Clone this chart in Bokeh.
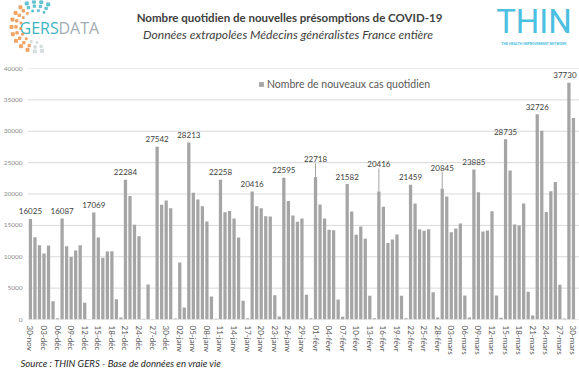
import numpy as np
from bokeh.plotting import figure
from bokeh.layouts import column
from bokeh.models import Range1d, FixedTicker, Legend, LegendItem, ColumnDataSource
from bokeh.core.properties import value
from bokeh.embed import file_html
from bokeh.resources import INLINE

# ---------------- data ----------------
nouveaux_cas = [
    16025, 13120, 11840, 10520, 11790, 2920, 200,
    16087, 11680, 9980, 10990, 11840, 2650, 50,
    17069, 13060, 9830, 10830, 10890, 3240, 320,
    22284, 19700, 15080, 13280, 100, 5580, 80,
    27542, 18270, 18960, 17740, 150, 9080, 1910,
    28213, 20180, 19120, 18060, 15610, 3660, 100,
    22258, 17100, 17310, 16090, 13060, 2970, 200,
    20416, 18060, 17740, 16460, 16410, 3880, 480,
    22595, 18900, 16570, 15560, 16090, 3930, 200,
    22718, 18320, 16090, 14290, 14230, 3190, 420,
    21582, 17210, 13490, 14820, 12850, 3770, 200,
    20416, 17950, 12210, 12750, 13540, 3770, 200,
    21459, 18480, 14390, 14130, 14390, 4350, 320,
    20845, 19600, 13910, 14500, 15290, 3820, 320,
    23885, 20290, 14020, 14180, 17260, 3820, 270,
    28735, 23750, 15130, 14980, 18480, 4410, 640,
    32726, 30090, 17150, 20450, 21930, 5520, 150,
    37730, 32110,
]

tick_labels = [
    "30-nov", "03-déc", "06-déc", "09-déc", "12-déc", "15-déc", "18-déc",
    "21-déc", "24-déc", "27-déc", "30-déc", "02-janv", "05-janv", "08-janv",
    "11-janv", "14-janv", "17-janv", "20-janv", "23-janv", "26-janv", "29-janv",
    "01-févr", "04-févr", "07-févr", "10-févr", "13-févr", "16-févr", "19-févr",
    "22-févr", "25-févr", "28-févr", "03-mars", "06-mars", "09-mars", "12-mars",
    "15-mars", "18-mars", "21-mars", "24-mars", "27-mars", "30-mars",
]

y_ticks = [0, 5000, 10000, 15000, 20000, 25000, 30000, 35000, 40000]

series_name = "Nombre de nouveaux cas quotidien"
title_text = "Nombre quotidien de nouvelles présomptions de COVID-19"
subtitle_text = "Données extrapolées Médecins généralistes France entière"
source_text = "Source : THIN GERS - Base de données en vraie vie"

# ---------------- styles ----------------
BAR = "#a5a5a5"
GRID = "#d9d9d9"
TXT = "#404040"
FONT = value("Lato")
W = 579


def blank_fig(h, y_top):
    f = figure(width=W, height=h, output_backend="svg", toolbar_location=None,
               x_range=Range1d(0, W), y_range=Range1d(y_top + h, y_top),
               min_border=0, min_border_left=0, min_border_right=0,
               min_border_top=0, min_border_bottom=0,
               x_axis_location=None, y_axis_location=None)
    f.outline_line_color = None
    f.grid.visible = False
    f.frame_align = False
    return f


# ---------------- header ----------------
head = blank_fig(60, 0)
head.text(x=[289], y=[16.5], text=[title_text], text_font=FONT, text_font_size="11.5px",
          text_font_style="bold", text_color=TXT, text_align="center", text_baseline="middle")
head.text(x=[287.5], y=[34], text=[subtitle_text], text_font=FONT, text_font_size="12.1px",
          text_font_style="italic", text_color=TXT, text_align="center", text_baseline="middle")
# GERSDATA logo
head.text(x=[19], y=[27.5], text=["GERS"], text_font=value("Open Sans"), text_font_size="16px",
          text_color="#3fb3c2", text_align="left", text_baseline="middle")
head.text(x=[58], y=[27.5], text=["DATA"], text_font=value("Open Sans"), text_font_size="16px",
          text_color="#a3adb2", text_align="left", text_baseline="middle")
cx, cy = 36, 26
dx, dy, dc, ds = [], [], [], []
for r, sz in ((25, 3.0), (20.5, 2.4), (16, 1.8)):
    for a in np.arange(62, 290, 17 if r > 20 else 21):
        t = np.radians(a)
        dx.append(cx + r * np.cos(t)); dy.append(cy - r * np.sin(t))
        if a < 118:
            dc.append("#4fbccb")
        elif a < 250:
            dc.append("#f29a52")
        else:
            dc.append("#d0d8db")
        ds.append(sz)
head.scatter(x=dx, y=dy, size=ds, marker="square", color=dc, alpha=0.85)
# THIN logo
head.text(x=[533.5], y=[21], text=["THIN"], text_font=value("Roboto"),
          text_font_size="33px", text_color="#4cc0e0", text_align="center", text_baseline="middle")
head.text(x=[533.5], y=[43], text=["THE HEALTH IMPROVEMENT NETWORK"], text_font=value("Roboto"),
          text_font_size="3.6px", text_font_style="bold", text_color="#4cc0e0",
          text_align="center", text_baseline="middle")

# ---------------- main chart ----------------
n = len(nouveaux_cas)
days = list(range(n))
slot = 549.5 / n
x0 = -0.5 - (25.7 - 16) / slot
x1 = n - 0.5 + (W - 575.2) / slot

p = figure(width=W, height=297, output_backend="svg", toolbar_location=None,
           x_range=Range1d(x0, x1), y_range=Range1d(0, 40000),
           min_border_left=16, min_border_right=0, min_border_top=8, min_border_bottom=38)
p.frame_align = False
p.outline_line_color = None
p.xgrid.grid_line_color = None
p.ygrid.grid_line_color = None

# gridlines starting where the category axis starts
p.segment(x0=[-0.5] * len(y_ticks), y0=y_ticks, x1=[x1] * len(y_ticks), y1=y_ticks,
          line_color=GRID, line_width=1)

bars = p.vbar(x=days, top=nouveaux_cas, width=0.72, color=BAR, line_color=None)

p.xaxis.ticker = FixedTicker(ticks=list(range(0, n, 3)))
p.xaxis.major_label_overrides = {i * 3: lab for i, lab in enumerate(tick_labels)}
p.xaxis.major_label_orientation = "vertical"
p.xaxis.major_label_text_font = "Lato"
p.xaxis.major_label_text_font_size = "8px"
p.xaxis.major_label_text_color = "#595959"
p.xaxis.major_label_standoff = 6
p.yaxis.ticker = FixedTicker(ticks=y_ticks)
p.yaxis.major_label_text_font = "Lato"
p.yaxis.major_label_text_font_size = "6.5px"
p.yaxis.major_label_text_color = "#8c8c8c"
p.yaxis.major_label_standoff = -4
for ax in (p.xaxis, p.yaxis):
    ax.axis_line_color = None
    ax.major_tick_line_color = None
    ax.minor_tick_line_color = None
    ax.major_tick_out = 0
    ax.major_tick_in = 0
    ax.minor_tick_out = 0
    ax.minor_tick_in = 0

# data labels on Mondays (a few lifted with leader lines)
px_to_units = 40000 / 251.0
lift = {63: 10, 77: 19.5, 91: 13.5}
xshift = {119: -4}
lx, ly, lt, lyoff, lxoff, sx0, sy0, sy1 = [], [], [], [], [], [], [], []
for i in range(0, n, 7):
    v = nouveaux_cas[i]
    extra = lift.get(i, 0)
    lx.append(i); ly.append(v); lt.append(str(v))
    lyoff.append(-(7.5 + extra)); lxoff.append(xshift.get(i, 0))
    if extra:
        sx0.append(i); sy0.append(v); sy1.append(v + (7.5 + extra - 4) * px_to_units)
lab_src = ColumnDataSource(dict(x=lx, y=ly, text=lt, yoff=lyoff, xoff=lxoff))
p.text(x="x", y="y", text="text", y_offset="yoff", x_offset="xoff", source=lab_src,
       text_font=FONT, text_font_size="8px", text_color=TXT,
       text_align="center", text_baseline="middle")
p.segment(x0=sx0, y0=sy0, x1=sx0, y1=sy1, line_color="#8c8c8c", line_width=0.8)

legend = Legend(items=[LegendItem(label=series_name, renderers=[bars])],
                location=(240, 229), orientation="horizontal",
                glyph_width=6, glyph_height=6, label_height=10, label_standoff=3,
                padding=0, margin=0, border_line_color=None, background_fill_alpha=0,
                label_text_font="Lato", label_text_font_size="10.5px", label_text_color="#595959")
p.add_layout(legend)

# ---------------- footer ----------------
foot = blank_fig(20, 357)
foot.text(x=[20], y=[362.5], text=[source_text], text_font=FONT, text_font_size="9.6px",
          text_font_style="italic", text_color="#262626", text_align="left", text_baseline="middle")

layout = column(head, p, foot, spacing=0)
open("out.html", "w").write(file_html(layout, INLINE))
